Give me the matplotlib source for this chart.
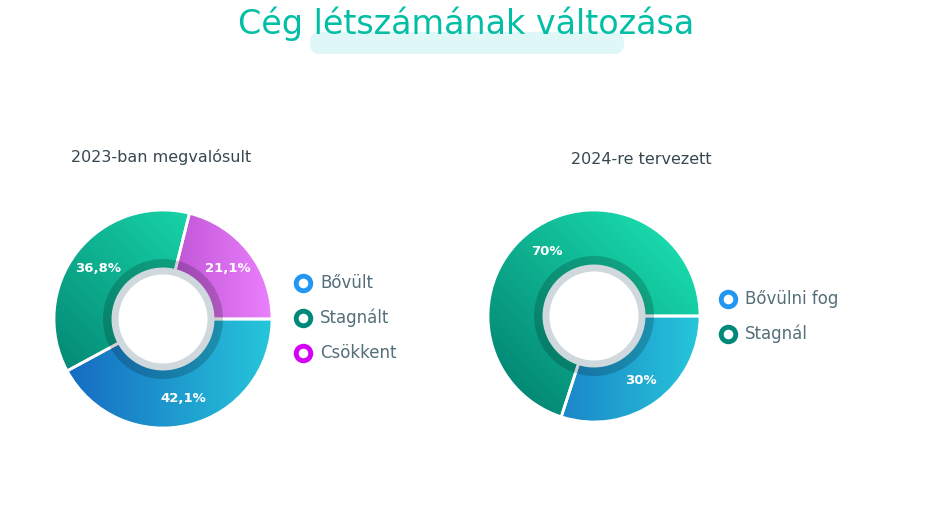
import numpy as np
import matplotlib
matplotlib.use("Agg")
import matplotlib.pyplot as plt
from matplotlib.patches import Wedge, Circle, FancyBboxPatch
from matplotlib.colors import LinearSegmentedColormap

title = "Cég létszámának változása"
left_title = "2023-ban megvalósult"
left_labels = ["Bővült", "Stagnált", "Csökkent"]
left_values = [42.1, 36.8, 21.1]
right_title = "2024-re tervezett"
right_labels = ["Bővülni fog", "Stagnál"]
right_values = [30, 70]

grads = {
    "blue": (["#1565c0", "#26c6da"], 0),
    "green": (["#00796b", "#1de9b6"], 45),
    "purple": (["#8e24aa", "#ea80fc"], 0),
}
legend_cols = {"blue": "#2196f3", "green": "#00897b", "purple": "#d500f9"}
left_keys = ["blue", "green", "purple"]
right_keys = ["blue", "green"]

W, H = 933, 523
fig = plt.figure(figsize=(W/100, H/100), dpi=100)
ax = fig.add_axes([0, 0, 1, 1])
ax.set_xlim(0, W); ax.set_ylim(0, H); ax.axis("off")
Y = lambda py: H - py

def donut(cx, cy, R, values, keys, r_lab):
    cy = Y(cy)
    total = sum(values)
    a = 0.0
    n = 300
    xx, yy = np.meshgrid(np.linspace(-1, 1, n), np.linspace(-1, 1, n))
    for v, k in zip(values, keys):
        a2 = a - 360 * v / total
        w = Wedge((cx, cy), R, a2, a, facecolor="none", edgecolor="none")
        ax.add_patch(w)
        cols, ang = grads[k]
        t = np.cos(np.radians(ang)) * xx + np.sin(np.radians(ang)) * yy
        cm = LinearSegmentedColormap.from_list(k, cols)
        im = ax.imshow(t, extent=(cx-R, cx+R, cy-R, cy+R), origin="lower",
                       cmap=cm, aspect="auto", zorder=1)
        im.set_clip_path(w)
        ax.add_patch(Wedge((cx, cy), R, a2, a, facecolor="none",
                           edgecolor="white", lw=2, zorder=2))
        mid = np.radians((a + a2) / 2)
        ax.text(cx + r_lab*np.cos(mid), cy + r_lab*np.sin(mid),
                f"{v:g}%".replace(".", ","), color="white", fontsize=9.5,
                fontweight="bold", ha="center", va="center", zorder=5)
        a = a2
    ax.add_patch(Circle((cx, cy), 60, facecolor="black", alpha=0.18, zorder=3, lw=0))
    ax.add_patch(Circle((cx, cy), 48, facecolor="white", edgecolor="#cfd8dc", lw=5, zorder=4))

donut(163, 319, 109, left_values, left_keys, 82)
donut(594, 316, 106, right_values, right_keys, 80)

ax.add_patch(FancyBboxPatch((310, Y(54)), 314, 22, boxstyle="round,pad=0,rounding_size=10",
                            facecolor="#e0f7f7", edgecolor="none", zorder=0))
ax.text(466, Y(24), title, color="#00bfa5", fontsize=24, ha="center", va="center", zorder=2)
ax.text(161, Y(157), left_title, color="#37474f", fontsize=11.5, ha="center", va="center")
ax.text(641, Y(160), right_title, color="#37474f", fontsize=11.5, ha="center", va="center")

def legend(x, ys, labels, keys):
    for y, l, k in zip(ys, labels, keys):
        ax.scatter([x], [Y(y)], s=110, facecolor="white", edgecolor=legend_cols[k], linewidths=3.5, zorder=5)
        ax.text(x + 17, Y(y), l, color="#546e7a", fontsize=12, va="center", ha="left")

legend(303, [283, 318, 353], left_labels, left_keys)
legend(728, [299, 334], right_labels, right_keys)

fig.savefig("out.png", dpi=100)
